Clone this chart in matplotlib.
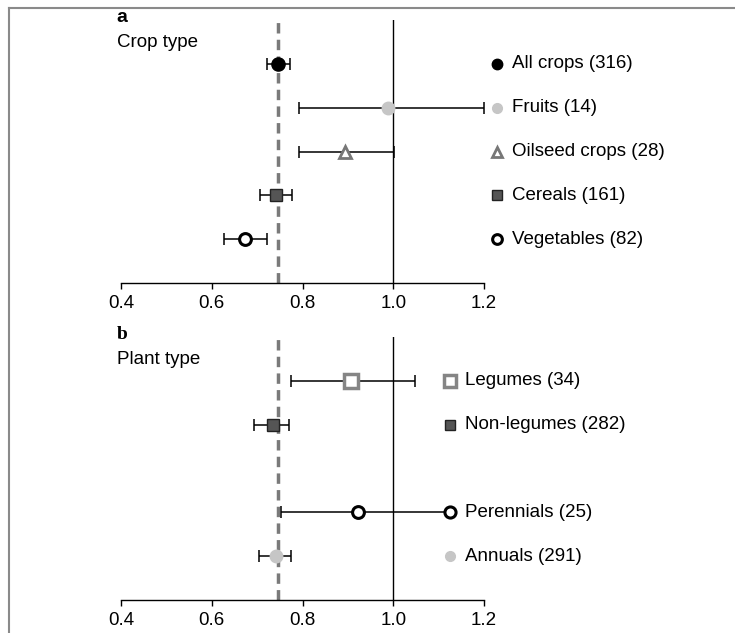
import numpy as np
import matplotlib.pyplot as plt
import matplotlib.transforms as mtransforms
from matplotlib.lines import Line2D

plt.rcParams['font.family'] = ['Liberation Sans', 'DejaVu Sans']

# panel a: crop type
crop_labels = ['All crops (316)', 'Fruits (14)', 'Oilseed crops (28)', 'Cereals (161)', 'Vegetables (82)']
crop_mean = [0.746, 0.989, 0.894, 0.742, 0.673]
crop_lo = [0.721, 0.793, 0.793, 0.706, 0.627]
crop_hi = [0.772, 1.200, 1.002, 0.777, 0.721]
crop_rows = [0, 1, 2, 3, 4]

# panel b: plant type
plant_labels = ['Legumes (34)', 'Non-legumes (282)', 'Perennials (25)', 'Annuals (291)']
plant_mean = [0.907, 0.736, 0.923, 0.741]
plant_lo = [0.775, 0.694, 0.752, 0.704]
plant_hi = [1.048, 0.770, 1.129, 0.775]
plant_rows = [0, 1, 3, 4]

overall = 0.745
xticks = [0.4, 0.6, 0.8, 1.0, 1.2]

# marker styles
black_dot = dict(marker='o', mfc='black', mec='black', mew=1)
grey_dot = dict(marker='o', mfc='#c6c6c6', mec='#c6c6c6', mew=1)
open_tri = dict(marker='^', mfc='white', mec='#777777', mew=2)
dark_sq = dict(marker='s', mfc='#555555', mec='#222222', mew=1)
open_dot = dict(marker='o', mfc='white', mec='black', mew=2.2)
open_sq = dict(marker='s', mfc='white', mec='#858585', mew=2.5)

crop_styles = [(black_dot, 9.5, 7.5), (grey_dot, 9, 7), (open_tri, 8.5, 7),
               (dark_sq, 8.5, 7), (open_dot, 8.5, 7)]
plant_styles = [(open_sq, 9.5, 8.5), (dark_sq, 9, 7), (open_dot, 8.5, 8), (grey_dot, 9, 7)]


def panel(ax, rows, mean, lo, hi, labels, styles, leg_x, tag, tagfont, title):
    ax.axvline(1.0, color='black', lw=1.0, zorder=1)
    ax.axvline(overall, color='#7a7a7a', lw=2.5, dashes=(3, 1.8), zorder=2)
    trans = mtransforms.blended_transform_factory(ax.transAxes, ax.transData)
    for r, m, l, h, lab, (st, ms, lms) in zip(rows, mean, lo, hi, labels, styles):
        ax.errorbar(m, r, xerr=[[m - l], [h - m]], fmt='none', ecolor='black',
                    elinewidth=1.1, capsize=4, capthick=1.1, zorder=3, clip_on=False)
        ax.plot(m, r, linestyle='none', ms=ms, zorder=5, clip_on=False, **st)
        ax.plot(leg_x, r, linestyle='none', ms=lms, transform=trans, zorder=5,
                clip_on=False, **st)
        ax.text(leg_x + 0.042, r, lab, transform=trans, va='center', ha='left',
                fontsize=13.5)
    ax.set_xlim(0.4, 1.2)
    ax.set_ylim(5, -1)
    for s in ['left', 'right', 'top']:
        ax.spines[s].set_visible(False)
    ax.spines['bottom'].set_linewidth(1.0)
    ax.set_yticks([])
    ax.set_xticks(xticks)
    ax.set_xticklabels(['%.1f' % t for t in xticks], fontsize=13.5)
    ax.tick_params(axis='x', length=4.5, width=1.0, pad=4)
    ax.text(-0.012, 1.01, tag, transform=ax.transAxes, ha='left', va='center',
            fontsize=14, fontweight='bold', family=tagfont)
    ax.text(-0.012, 0.913, title, transform=ax.transAxes, ha='left', va='center',
            fontsize=13.5)


fig = plt.figure(figsize=(7.35, 6.33), dpi=100)
ax1 = fig.add_axes([121 / 735, 1 - 283 / 633, 363 / 735, 263 / 633])
ax2 = fig.add_axes([121 / 735, 1 - 600 / 633, 363 / 735, 263 / 633])

panel(ax1, crop_rows, crop_mean, crop_lo, crop_hi, crop_labels, crop_styles,
      1.036, 'a', ['Liberation Sans', 'DejaVu Sans'], 'Crop type')
panel(ax2, plant_rows, plant_mean, plant_lo, plant_hi, plant_labels, plant_styles,
      0.906, 'b', ['Liberation Serif', 'DejaVu Serif'], 'Plant type')

# frame lines of the original figure
fig.add_artist(Line2D([9 / 735, 1], [1 - 8 / 633, 1 - 8 / 633], transform=fig.transFigure,
                      color='#8a8a8a', lw=1.5))
fig.add_artist(Line2D([9 / 735, 9 / 735], [0, 1 - 8 / 633], transform=fig.transFigure,
                      color='#8a8a8a', lw=1.5))

fig.savefig('out.png', dpi=100)
